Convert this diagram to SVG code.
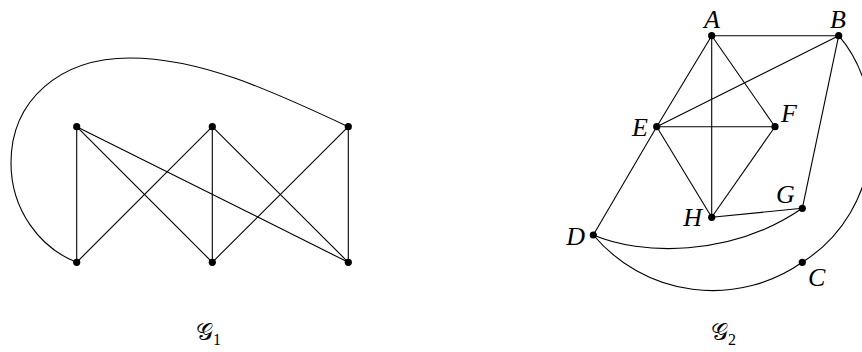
<svg xmlns="http://www.w3.org/2000/svg" width="862" height="352" viewBox="0 0 862 352">
<style>
.e{fill:none;stroke:#000;stroke-width:1.1}
.n{fill:#000}
.l{font-family:"Liberation Serif","DejaVu Serif",serif;font-style:italic;font-size:26px;fill:#000}
.t{font-family:"DejaVu Serif","Noto Sans","DejaVu Sans",serif;font-size:24px;fill:#000}
.s{font-family:"Liberation Serif",serif;font-size:16px;fill:#000}
</style>
<rect width="862" height="352" fill="#fff"/>
<g id="connectors">
<g id="g1-edges">
<line class="e" x1="76.7" y1="126.7" x2="76.7" y2="262.3"/>
<line class="e" x1="76.7" y1="126.7" x2="212.3" y2="262.3"/>
<line class="e" x1="76.7" y1="126.7" x2="348.3" y2="262.3"/>
<line class="e" x1="212.3" y1="126.7" x2="76.7" y2="262.3"/>
<line class="e" x1="212.3" y1="126.7" x2="212.3" y2="262.3"/>
<line class="e" x1="212.3" y1="126.7" x2="348.3" y2="262.3"/>
<line class="e" x1="348.3" y1="126.7" x2="212.3" y2="262.3"/>
<line class="e" x1="348.3" y1="126.7" x2="348.3" y2="262.3"/>
<path class="e" d="M76.7,262.3 C40,248 11,210 11,163 C11,100 60,58 130,58 C200,58 270,90 348.3,126.7"/>
</g>
<g id="g2-edges">
<line class="e" x1="711.7" y1="35.7" x2="838.7" y2="35.7"/>
<line class="e" x1="711.7" y1="35.7" x2="656.7" y2="126.7"/>
<line class="e" x1="711.7" y1="35.7" x2="775" y2="126.7"/>
<line class="e" x1="711.7" y1="35.7" x2="711.7" y2="217.3"/>
<line class="e" x1="656.7" y1="126.7" x2="838.7" y2="35.7"/>
<line class="e" x1="656.7" y1="126.7" x2="775" y2="126.7"/>
<line class="e" x1="656.7" y1="126.7" x2="711.7" y2="217.3"/>
<line class="e" x1="775" y1="126.7" x2="711.7" y2="217.3"/>
<line class="e" x1="656.7" y1="126.7" x2="593.3" y2="235"/>
<line class="e" x1="838.7" y1="35.7" x2="802.3" y2="208.3"/>
<line class="e" x1="711.7" y1="217.3" x2="802.3" y2="208.3"/>
<path class="e" d="M593.3,235 C640,255 730,258 802.3,208.3"/>
<path class="e" d="M593.3,235 A156,156 0 0 0 802.3,262.3"/>
<path class="e" d="M838.7,35.7 C890,95 885,210 802.3,262.3"/>
</g>
</g>
<g id="g1-nodes">
<circle id="u1" class="n" cx="76.7" cy="126.7" r="3.6"/>
<circle id="u2" class="n" cx="212.3" cy="126.7" r="3.6"/>
<circle id="u3" class="n" cx="348.3" cy="126.7" r="3.6"/>
<circle id="v1" class="n" cx="76.7" cy="262.3" r="3.6"/>
<circle id="v2" class="n" cx="212.3" cy="262.3" r="3.6"/>
<circle id="v3" class="n" cx="348.3" cy="262.3" r="3.6"/>
</g>
<g id="node-A"><circle class="n" cx="711.7" cy="35.7" r="3.6"/><text class="l" x="712" y="28" text-anchor="middle">A</text></g>
<g id="node-B"><circle class="n" cx="838.7" cy="35.7" r="3.6"/><text class="l" x="838" y="28" text-anchor="middle">B</text></g>
<g id="node-E"><circle class="n" cx="656.7" cy="126.7" r="3.6"/><text class="l" x="648" y="136" text-anchor="end">E</text></g>
<g id="node-F"><circle class="n" cx="775" cy="126.7" r="3.6"/><text class="l" x="781" y="122">F</text></g>
<g id="node-G"><circle class="n" cx="802.3" cy="208.3" r="3.6"/><text class="l" x="776" y="203">G</text></g>
<g id="node-H"><circle class="n" cx="711.7" cy="217.3" r="3.6"/><text class="l" x="702" y="226" text-anchor="end">H</text></g>
<g id="node-D"><circle class="n" cx="593.3" cy="235" r="3.6"/><text class="l" x="585" y="245" text-anchor="end">D</text></g>
<g id="node-C"><circle class="n" cx="802.3" cy="262.3" r="3.6"/><text class="l" x="808" y="286">C</text></g>
<g id="label-G1"><text class="t" x="196" y="340">𝒢</text><text class="s" x="213" y="345">1</text></g>
<g id="label-G2"><text class="t" x="711" y="340">𝒢</text><text class="s" x="728" y="345">2</text></g>
</svg>
